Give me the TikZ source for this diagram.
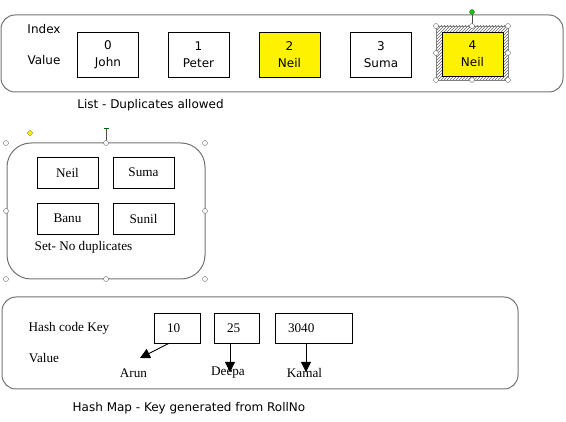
\documentclass[tikz,border=0pt]{standalone}
\usepackage{fontspec}
\setmainfont{Liberation Serif}
\setsansfont{DejaVu Sans}
\usetikzlibrary{patterns,arrows.meta,shapes.geometric}
\begin{document}
\begin{tikzpicture}[x=1pt,y=-1pt,
  frame/.style={draw=black!55, line width=1pt},
  sanstxt/.style={font=\sffamily\fontsize{12}{14}\selectfont, inner sep=0pt},
  seriftxt/.style={font=\rmfamily\fontsize{13.2}{15}\selectfont, inner sep=0pt},
  lbox/.style={draw, line width=0.6pt, minimum width=61pt, minimum height=45pt, inner sep=0pt,
    align=center, font=\sffamily\fontsize{12}{17}\selectfont},
  sbox/.style={draw, line width=0.6pt, minimum width=61pt, minimum height=31pt, inner sep=0pt,
    font=\rmfamily\fontsize{13.2}{15}\selectfont},
  hbox/.style={draw, line width=0.6pt, minimum height=30pt, inner ysep=0pt, inner xsep=13pt,
    align=left, font=\rmfamily\fontsize{13.2}{15}\selectfont},
  handle/.style={circle, draw=black!60, fill=white, line width=0.4pt, minimum size=5pt, inner sep=0pt},
  harrow/.style={-{Triangle[length=10pt,width=10pt]}, line width=0.9pt}
]
\useasboundingbox (0,0) rectangle (566,422);

% ---------- List ----------
\draw[frame, rounded corners=14pt] (1,15) rectangle (563,92);
\node[sanstxt] (idx) at (44,29) {Index};
\node[sanstxt] (val) at (44,60) {Value};
\node[lbox] (l0) at (108,54.5) {0\\John};
\node[lbox] (l1) at (198.5,54.5) {1\\Peter};
\node[lbox, fill=yellow] (l2) at (289.5,54.5) {2\\Neil};
\node[lbox] (l3) at (381,54.5) {3\\Suma};
% selection frame
\fill[pattern=north east lines, pattern color=black!60] (436,26) rectangle (508,80);
\draw[black!50, line width=0.4pt] (436,26) rectangle (508,80);
\node[lbox, fill=yellow, minimum height=44pt] (l4) at (472.5,54) {4\\Neil};
\coordinate (rot) at (472,12);
\draw[black!70, line width=0.6pt] (rot) -- (472,26);
\node[circle, draw=black!60, fill=green!80!black, minimum size=5pt, inner sep=0pt] (roth) at (rot) {};
\foreach \x in {436,472,508} {\node[handle] at (\x,26) {}; \node[handle] at (\x,80) {};}
\node[handle] at (436,53) {};
\node[handle] at (508,53) {};
\node[sanstxt] (listcap) at (150.5,105) {List - Duplicates allowed};

% ---------- Set ----------
\draw[frame, rounded corners=24pt] (7,143) rectangle (205,279);
\node[sbox] (sneil) at (67.5,172.5) {Neil};
\node[sbox] (ssuma) at (143.5,172.5) {Suma};
\node[sbox] (sbanu) at (67.5,218.5) {Banu};
\node[sbox] (ssunil) at (143.5,218.5) {Sunil};
\node[seriftxt] (setcap) at (83.5,247) {Set- No duplicates};
\draw[black!70, line width=0.6pt] (106,129) -- (106,143);
\draw[green!40!black, line width=1pt] (103.5,129) -- (108.5,129);
\node[diamond, fill=yellow, draw=black!50!yellow, line width=0.3pt, minimum size=6pt, inner sep=0pt] (adj) at (30,133) {};
\foreach \x in {6,106,205} {\node[handle] at (\x,143) {}; \node[handle] at (\x,279) {};}
\node[handle] at (6,211) {};
\node[handle] at (205,211) {};

% ---------- Hash Map ----------
\draw[frame, rounded corners=14pt] (2,297) rectangle (518,389);
\node[seriftxt] (hkey) at (69,328) {Hash code Key};
\node[seriftxt] (hval) at (44,358) {Value};
\node[hbox, text width=20pt] (h10) at (177,328) {10};
\node[hbox, text width=19pt] (h25) at (236.5,328) {25};
\node[hbox, text width=51pt] (h3040) at (313.5,328) {3040};
\node[seriftxt] (arun) at (133.5,373) {Arun};
\node[seriftxt] (deepa) at (228,373) {Deepa};
\node[seriftxt] (kamal) at (304.5,373) {Kamal};
\coordinate (arunTip) at (140,358);
\coordinate (deepaTip) at (230,372);
\coordinate (kamalTip) at (306,372);
\draw[harrow] ([xshift=-8pt]h10.south) -- (arunTip);
\draw[harrow] (h25.south -| deepaTip) -- (deepaTip);
\draw[harrow] (h3040.south -| kamalTip) -- (kamalTip);
\node[sanstxt] (hashcap) at (189,408) {Hash Map - Key generated from RollNo};
\end{tikzpicture}
\end{document}
